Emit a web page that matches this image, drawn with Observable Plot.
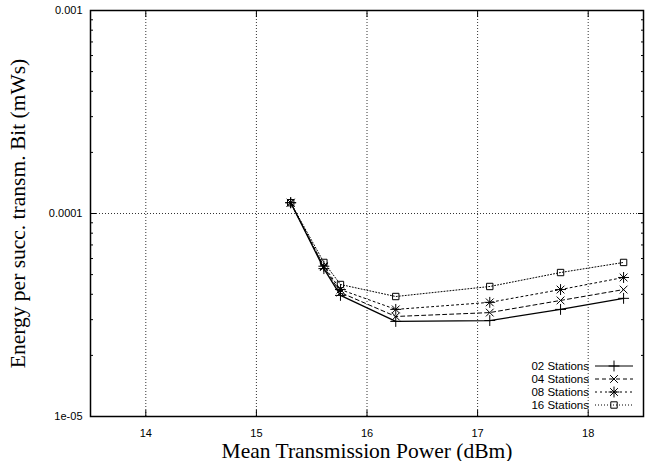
<!DOCTYPE html>
<html><head><meta charset="utf-8">
<script src="https://cdn.jsdelivr.net/npm/d3@7"></script>
<script src="https://cdn.jsdelivr.net/npm/@observablehq/plot@0.6"></script>
<style>
html,body{margin:0;padding:0;background:#fff;}
#wrap{position:relative;width:652px;height:461px;}
#wrap svg text{fill:#000;}
[aria-label="x-axis label"] text,[aria-label="y-axis label"] text{font-family:"Liberation Serif",serif;font-size:21.5px;}
#legend{position:absolute;right:17px;bottom:50px;font:11.5px "Liberation Sans",Arial,sans-serif;color:#000;}
#legend .row{display:flex;align-items:center;justify-content:flex-end;height:13px;}
#legend svg{margin-left:4px;}
</style></head>
<body><div id="wrap"><div id="legend"></div></div>
<script>
const power = [15.31, 15.61, 15.76, 16.26, 17.11, 17.75, 18.32];
const st02 = [1.13e-4, 5.35e-5, 3.95e-5, 2.94e-5, 2.97e-5, 3.37e-5, 3.82e-5];
const st04 = [1.13e-4, 5.45e-5, 4.08e-5, 3.11e-5, 3.25e-5, 3.73e-5, 4.22e-5];
const st08 = [1.13e-4, 5.5e-5, 4.22e-5, 3.37e-5, 3.65e-5, 4.22e-5, 4.84e-5];
const st16 = [1.13e-4, 5.74e-5, 4.47e-5, 3.90e-5, 4.37e-5, 5.12e-5, 5.74e-5];
const seriesNames = ["02 Stations", "04 Stations", "08 Stations", "16 Stations"];
const xTicks = [14, 15, 16, 17, 18];
const yTicks = [1e-5, 1e-4, 1e-3];
const yTickLabels = ["1e-05", "0.0001", "0.001"];
const yMinor = [2e-5,3e-5,4e-5,5e-5,6e-5,7e-5,8e-5,9e-5,2e-4,3e-4,4e-4,5e-4,6e-4,7e-4,8e-4,9e-4];

const styles = [
  {dash: null, symbols: ["plus"]},
  {dash: "4,3", symbols: ["times"]},
  {dash: "2,3", symbols: ["plus", "times"]},
  {dash: "1,2", symbols: ["square"]}
];
const allValues = [st02, st04, st08, st16];
const rows = [];
allValues.forEach((vals, i) => vals.forEach((v, j) => rows.push({series: seriesNames[i], idx: i, x: power[j], y: v})));

const sans = "Liberation Sans, Arial, sans-serif";
const marks = [
  Plot.gridX(xTicks, {stroke: "#333", strokeOpacity: 1, strokeDasharray: "1,2", strokeWidth: 1}),
  Plot.gridY([1e-4], {stroke: "#333", strokeOpacity: 1, strokeDasharray: "1,2", strokeWidth: 1}),
  Plot.axisX(xTicks, {anchor: "bottom", tickSize: -6, tickPadding: 19, fontSize: 11, fontFamily: sans, label: "Mean Transmission Power (dBm)", labelAnchor: "center", labelArrow: "none", labelOffset: 41}),
  Plot.axisX(xTicks, {anchor: "top", tickSize: -6, tickFormat: () => "", label: null}),
  Plot.axisY(yTicks, {anchor: "left", tickSize: -6, tickPadding: 14, fontSize: 11, fontFamily: sans, tickFormat: d => yTickLabels[yTicks.indexOf(d)], label: "Energy per succ. transm. Bit (mWs)", labelAnchor: "center", labelArrow: "none", labelOffset: 81}),
  Plot.axisY(yMinor, {anchor: "left", tickSize: -3, tickFormat: () => "", label: null}),
  Plot.axisY(yTicks, {anchor: "right", tickSize: -6, tickFormat: () => "", label: null}),
  Plot.axisY(yMinor, {anchor: "right", tickSize: -3, tickFormat: () => "", label: null}),
  Plot.frame({stroke: "#000", strokeWidth: 1.5})
];
styles.forEach((s, i) => {
  const data = rows.filter(d => d.idx === i);
  marks.push(Plot.line(data, {x: "x", y: "y", stroke: "#000", strokeWidth: i === 0 ? 1.3 : 1, strokeDasharray: s.dash}));
  s.symbols.forEach(sym => marks.push(Plot.dot(data, {x: "x", y: "y", symbol: sym, r: 3.6, stroke: "#000", fill: "none", strokeWidth: 1})));
});

const chart = Plot.plot({
  width: 652, height: 461,
  marginTop: 10, marginLeft: 90, marginRight: 9, marginBottom: 45,
  style: {background: "#fff", color: "#000", overflow: "visible"},
  x: {domain: [13.5, 18.5]},
  y: {type: "log", domain: [1e-5, 1e-3]},
  marks
});
document.getElementById("wrap").prepend(chart);

const leg = document.getElementById("legend");
styles.forEach((s, i) => {
  const row = document.createElement("div");
  row.className = "row";
  const span = document.createElement("span");
  span.textContent = seriesNames[i];
  row.appendChild(span);
  const svg = d3.create("svg").attr("width", 42).attr("height", 12);
  svg.append("line").attr("x1", 2).attr("x2", 40).attr("y1", 6).attr("y2", 6)
    .attr("stroke", "#000").attr("stroke-dasharray", s.dash).attr("stroke-width", 1);
  const symMap = {plus: d3.symbolPlus, times: d3.symbolTimes, square: d3.symbolSquare};
  s.symbols.forEach(sym => {
    svg.append("path").attr("transform", "translate(21,6)")
      .attr("d", d3.symbol(symMap[sym], Math.PI * 3.6 * 3.6)())
      .attr("fill", "none").attr("stroke", "#000");
  });
  row.appendChild(svg.node());
  leg.appendChild(row);
});
</script></body></html>
